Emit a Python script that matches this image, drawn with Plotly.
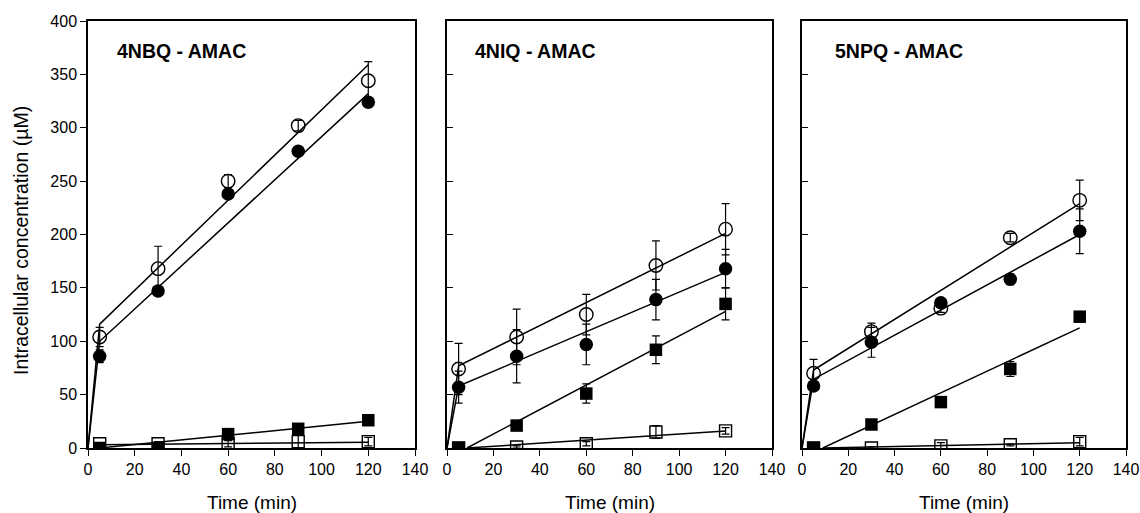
import plotly.graph_objects as go

# ---------------- data ----------------
time_min = [5, 30, 60, 90, 120]
panel_titles = ["4NBQ - AMAC", "4NIQ - AMAC", "5NPQ - AMAC"]

# 4NBQ - AMAC
nbq_open_circ = [104, 168, 250, 302, 344]
nbq_open_circ_err = [9, 21, 6, 5, 18]
nbq_fill_circ = [86, 147, 238, 278, 324]
nbq_fill_circ_err = [6, 4, 4, 4, 4]
nbq_fill_sq = [0, 0, 13, 18, 26]
nbq_fill_sq_err = [0, 0, 2, 3, 2]
nbq_open_sq = [4, 4, 4, 6, 6]
nbq_open_sq_err = [1, 2, 3, 6, 4]
nbq_fit_open_circ_x = [0, 5, 120]
nbq_fit_open_circ_y = [0, 116, 359]
nbq_fit_fill_circ_x = [0, 5, 120]
nbq_fit_fill_circ_y = [0, 100, 332]
nbq_fit_fill_sq_x = [5, 120]
nbq_fit_fill_sq_y = [0, 25]
nbq_fit_open_sq_x = [5, 120]
nbq_fit_open_sq_y = [3, 5.5]

# 4NIQ - AMAC
niq_open_circ = [74, 104, 125, 171, 205]
niq_open_circ_err = [24, 26, 19, 23, 24]
niq_fill_circ = [57, 86, 97, 139, 168]
niq_fill_circ_err = [15, 25, 19, 19, 18]
niq_fill_sq = [0, 21, 51, 92, 135]
niq_fill_sq_err = [0, 3, 9, 13, 15]
niq_open_sq = [0, 1, 4, 15, 16]
niq_open_sq_err = [0, 1, 2, 6, 3]
niq_fit_open_circ_x = [0, 5, 120]
niq_fit_open_circ_y = [0, 77, 201]
niq_fit_fill_circ_x = [0, 5, 120]
niq_fit_fill_circ_y = [0, 58, 164.5]
niq_fit_fill_sq_x = [8.6, 120]
niq_fit_fill_sq_y = [0, 128]
niq_fit_open_sq_x = [8.6, 120]
niq_fit_open_sq_y = [0, 16]

# 5NPQ - AMAC
npq_open_circ = [70, 109, 131, 197, 232]
npq_open_circ_err = [13, 8, 4, 4, 19]
npq_fill_circ = [58, 99, 136, 158, 203]
npq_fill_circ_err = [4, 14, 4, 5, 21]
npq_fill_sq = [0, 22, 43, 74, 123]
npq_fill_sq_err = [0, 2, 2, 7, 2]
npq_open_sq = [0, 0, 2, 3, 6]
npq_open_sq_err = [0, 1, 3, 1, 4]
npq_fit_open_circ_x = [0, 5, 120]
npq_fit_open_circ_y = [0, 73, 229]
npq_fit_fill_circ_x = [0, 5, 120]
npq_fit_fill_circ_y = [0, 64.5, 200]
npq_fit_fill_sq_x = [9, 120]
npq_fit_fill_sq_y = [0, 112.5]
npq_fit_open_sq_x = [9, 120]
npq_fit_open_sq_y = [0, 5]

x_ticks = [0, 20, 40, 60, 80, 100, 120, 140]
y_ticks = [0, 50, 100, 150, 200, 250, 300, 350, 400]
x_title = "Time (min)"
y_title = "Intracellular concentration (µM)"

panels = [
    dict(oc=nbq_open_circ, oce=nbq_open_circ_err, fc=nbq_fill_circ, fce=nbq_fill_circ_err,
         fs=nbq_fill_sq, fse=nbq_fill_sq_err, os=nbq_open_sq, ose=nbq_open_sq_err,
         fits=[(nbq_fit_open_circ_x, nbq_fit_open_circ_y), (nbq_fit_fill_circ_x, nbq_fit_fill_circ_y),
               (nbq_fit_fill_sq_x, nbq_fit_fill_sq_y), (nbq_fit_open_sq_x, nbq_fit_open_sq_y)],
         tx=11.4),
    dict(oc=niq_open_circ, oce=niq_open_circ_err, fc=niq_fill_circ, fce=niq_fill_circ_err,
         fs=niq_fill_sq, fse=niq_fill_sq_err, os=niq_open_sq, ose=niq_open_sq_err,
         fits=[(niq_fit_open_circ_x, niq_fit_open_circ_y), (niq_fit_fill_circ_x, niq_fit_fill_circ_y),
               (niq_fit_fill_sq_x, niq_fit_fill_sq_y), (niq_fit_open_sq_x, niq_fit_open_sq_y)],
         tx=11.3),
    dict(oc=npq_open_circ, oce=npq_open_circ_err, fc=npq_fill_circ, fce=npq_fill_circ_err,
         fs=npq_fill_sq, fse=npq_fill_sq_err, os=npq_open_sq, ose=npq_open_sq_err,
         fits=[(npq_fit_open_circ_x, npq_fit_open_circ_y), (npq_fit_fill_circ_x, npq_fit_fill_circ_y),
               (npq_fit_fill_sq_x, npq_fit_fill_sq_y), (npq_fit_open_sq_x, npq_fit_open_sq_y)],
         tx=13.2),
]

W, H = 1140, 513
FONT = "Arial, 'Liberation Sans', Helvetica, sans-serif"
x_domains_px = [(88, 415), (447, 772), (802, 1126)]
y_bottom_px, y_top_px = 448, 21
y_dom = [(H - y_bottom_px) / H, (H - y_top_px) / H]

fig = go.Figure()

def err(arr):
    return dict(type="data", array=arr, visible=True, color="black", thickness=1.2, width=4)

for i, p in enumerate(panels):
    xa = "x" if i == 0 else f"x{i+1}"
    ya = "y" if i == 0 else f"y{i+1}"
    for fx, fy in p["fits"]:
        fig.add_trace(go.Scatter(x=fx, y=fy, mode="lines", xaxis=xa, yaxis=ya,
                                 line=dict(color="black", width=1.5), showlegend=False,
                                 hoverinfo="skip"))
    fig.add_trace(go.Scatter(x=time_min, y=p["os"], mode="markers", xaxis=xa, yaxis=ya,
                             error_y=err(p["ose"]), showlegend=False,
                             marker=dict(symbol="square-open", size=12, color="black",
                                         line=dict(width=1.4, color="black"))))
    fig.add_trace(go.Scatter(x=time_min, y=p["fs"], mode="markers", xaxis=xa, yaxis=ya,
                             error_y=err(p["fse"]), showlegend=False,
                             marker=dict(symbol="square", size=12.5, color="black")))
    fig.add_trace(go.Scatter(x=time_min, y=p["fc"], mode="markers", xaxis=xa, yaxis=ya,
                             error_y=err(p["fce"]), showlegend=False,
                             marker=dict(symbol="circle", size=13.5, color="black")))
    fig.add_trace(go.Scatter(x=time_min, y=p["oc"], mode="markers", xaxis=xa, yaxis=ya,
                             error_y=err(p["oce"]), showlegend=False,
                             marker=dict(symbol="circle-open", size=13.5, color="black",
                                         line=dict(width=1.4, color="black"))))

    x0, x1 = x_domains_px[i]
    xkey = "xaxis" if i == 0 else f"xaxis{i+1}"
    ykey = "yaxis" if i == 0 else f"yaxis{i+1}"
    fig.layout[xkey] = dict(
        domain=[x0 / W, x1 / W], range=[0, 140], tickvals=x_ticks,
        ticks="outside", ticklen=6, tickwidth=1.3, tickcolor="black",
        showline=True, linecolor="black", linewidth=1.5, mirror=True,
        showgrid=False, zeroline=False, anchor=ya, automargin=False,
        ticklabeloverflow="allow",
        tickfont=dict(family=FONT, size=16, color="black"), fixedrange=True,
    )
    fig.layout[ykey] = dict(
        domain=y_dom, range=[0, 400], tickvals=y_ticks,
        ticks="outside" if i == 0 else "inside", ticklen=6, tickwidth=1.3, tickcolor="black",
        showticklabels=(i == 0),
        showline=True, linecolor="black", linewidth=1.5, mirror=True,
        showgrid=False, zeroline=False, anchor=xa, automargin=False,
        ticklabeloverflow="allow",
        tickfont=dict(family=FONT, size=16, color="black"), fixedrange=True,
    )
    fig.add_annotation(x=p["tx"], y=372, xref=xa, yref=ya, text=f"<b>{panel_titles[i]}</b>",
                       showarrow=False, xanchor="left", yanchor="middle",
                       font=dict(family=FONT, size=19.5, color="black"))
    fig.add_annotation(x=((x0 + x1) / 2) / W, y=(H - 502) / H, xref="paper", yref="paper",
                       text=x_title, showarrow=False, xanchor="center", yanchor="middle",
                       font=dict(family=FONT, size=19, color="black"))

fig.add_annotation(x=21 / W, y=(H - 241) / H, xref="paper", yref="paper", text=y_title,
                   textangle=-90, showarrow=False, xanchor="center", yanchor="middle",
                   font=dict(family=FONT, size=19.5, color="black"))

fig.update_layout(
    width=W, height=H, margin=dict(l=0, r=0, t=0, b=0),
    paper_bgcolor="white", plot_bgcolor="white", showlegend=False,
    font=dict(family=FONT, color="black"),
)

fig.write_html(
    "out.html",
    config={"displayModeBar": False},
    post_script="document.body.style.margin='0';document.body.style.padding='0';"
                "document.documentElement.style.overflow='hidden';document.body.style.overflow='hidden';",
)
